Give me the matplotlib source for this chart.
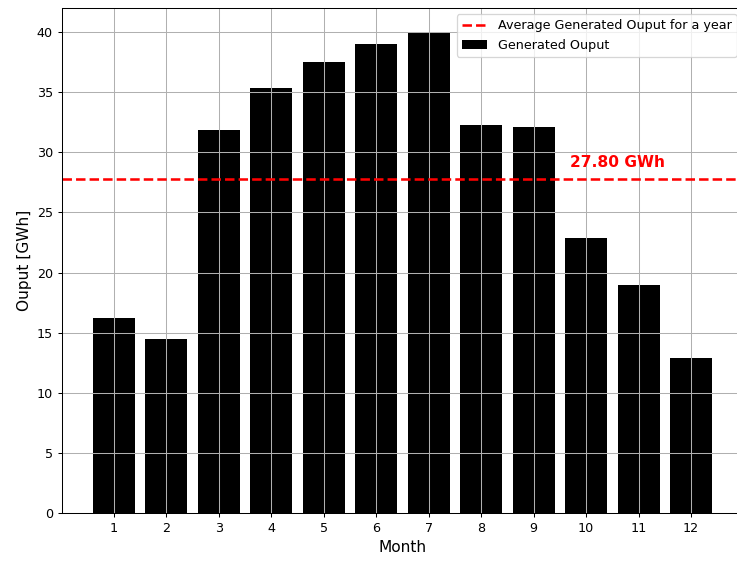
import numpy as np
import matplotlib
matplotlib.use("Agg")
import matplotlib.pyplot as plt

months = np.arange(1, 13)
output_gwh = [16.2, 14.45, 31.85, 35.35, 37.5, 39.0, 40.0, 32.3, 32.1, 22.9, 19.0, 12.9]

avg = np.mean(output_gwh)

DPI = 92
fig = plt.figure(figsize=(737 / DPI, 563 / DPI), dpi=DPI)
ax = fig.add_axes([62 / 737, 1 - 513 / 563, 681 / 737, 505 / 563])

ax.axhline(avg, color="red", linestyle="--", linewidth=2,
           label="Average Generated Ouput for a year")
ax.bar(months, output_gwh, color="black", label="Generated Ouput")
ax.text(9.7, 28.75, f"{avg:.2f} GWh", color="red", fontsize=12, fontweight="bold")

ax.set_xticks(months)
ax.set_xlim(0.01, 12.99)
ax.grid(True)
ax.set_xlabel("Month", fontsize=12)
ax.set_ylabel("Ouput [GWh]", fontsize=12)
ax.legend(loc="upper right")

fig.savefig("out.png", dpi=DPI)
